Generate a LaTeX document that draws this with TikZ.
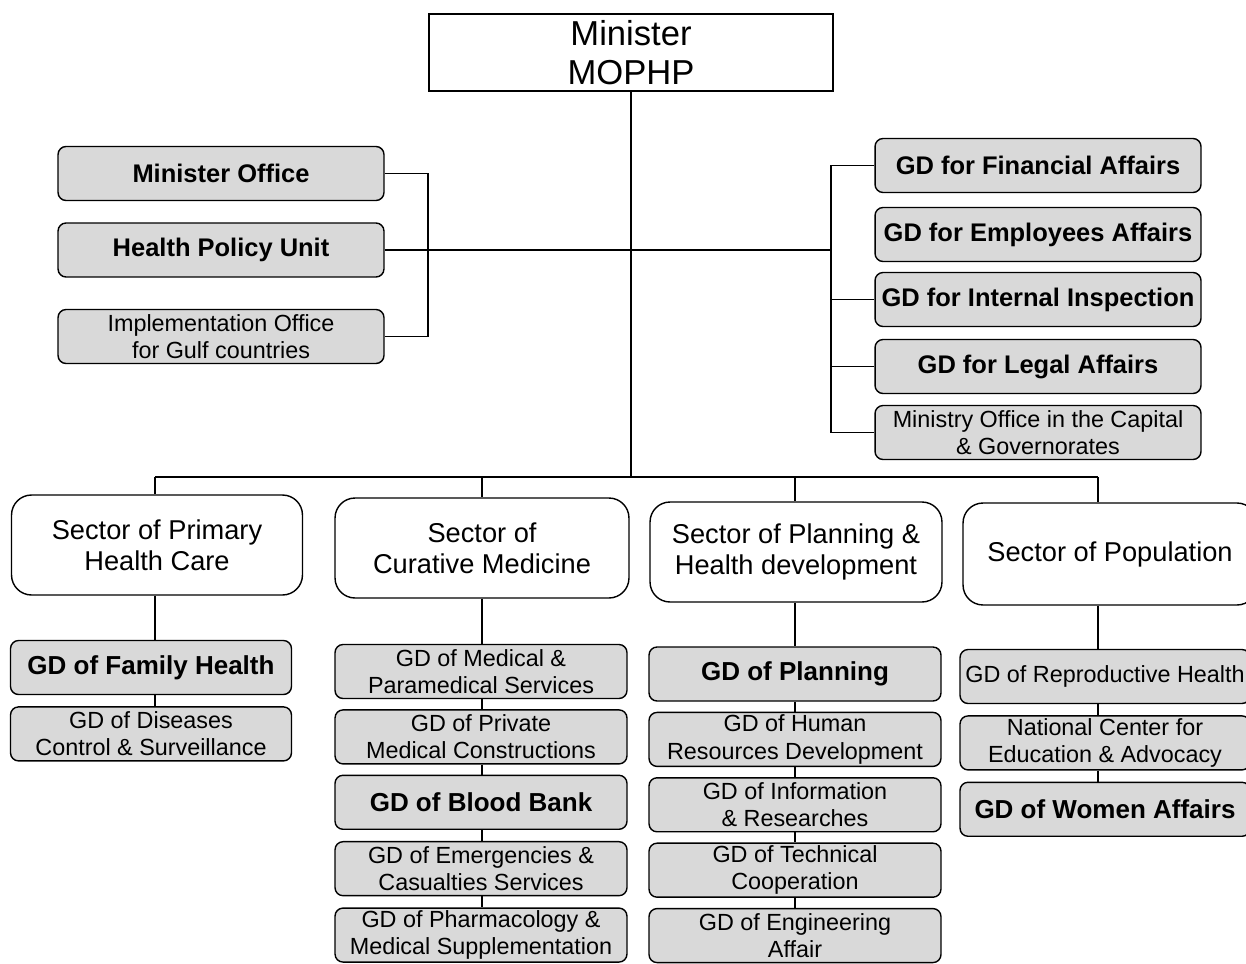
\documentclass[tikz,border=0pt]{standalone}
\usepackage{fontspec}
\setmainfont{Liberation Sans}
\usetikzlibrary{positioning}

\tikzset{
  head/.style={draw, line width=0.8pt, minimum width=8.08cm, minimum height=1.54cm,
    inner sep=0pt, align=center, font=\fontsize{19.7}{22}\selectfont},
  sector/.style={draw, line width=0.8pt, rounded corners=0.4cm, minimum width=5.84cm,
    minimum height=2cm, align=center, font=\fontsize{15.5}{17.6}\selectfont},
  unit/.style={draw, line width=0.8pt, fill=black!15, rounded corners=0.16cm,
    minimum width=5.84cm, minimum height=1.08cm, inner xsep=2pt, inner ysep=0pt,
    align=center, font=\fontsize{13.3}{15.5}\selectfont},
  unitb/.style={unit, font=\fontsize{14.8}{17}\selectfont\bfseries},
  staff/.style={unit, minimum width=6.52cm, font=\fontsize{14.5}{17}\selectfont\bfseries},
  staffr/.style={staff, font=\fontsize{13.3}{15.5}\selectfont},
  link/.style={line width=0.8pt},
}

\begin{document}
\begin{tikzpicture}[x=0.02cm, y=-0.02cm]
\useasboundingbox (0,0) rectangle (1246,963);
\clip (0,0) rectangle (1246,963);

% Define nodes
\node[head] (min) at (631,52.5) {Minister\\MOPHP};

\node[staff]  (mo)  at (221,173.5) {Minister Office};
\node[staff]  (hpu) at (221,250)   {Health Policy Unit};
\node[staffr] (imp) at (221,336.5) {Implementation Office\\for Gulf countries};

\node[staff]  (fin) at (1038,165.5) {GD for Financial Affairs};
\node[staff]  (emp) at (1038,234.5) {GD for Employees Affairs};
\node[staff]  (ins) at (1038,299.5) {GD for Internal Inspection};
\node[staff]  (leg) at (1038,366.5) {GD for Legal Affairs};
\node[staffr] (mio) at (1038,432.5) {Ministry Office in the Capital\\\& Governorates};

\node[sector, minimum width=5.82cm] (phc) at (157,545)  {Sector of Primary\\Health Care};
\node[sector, minimum width=5.88cm] (cur) at (482,548)  {Sector of\\Curative Medicine};
\node[sector]                       (pln) at (796,552)  {Sector of Planning \&\\Health development};
\node[sector, minimum width=5.88cm, minimum height=2.04cm] (pop) at (1110,554) {Sector of Population};

\node[unitb, minimum width=5.62cm] (fh) at (151,667.5) {GD of Family Health};
\node[unit, minimum width=5.62cm, below=0.22cm of fh] (dc) {GD of Diseases\\Control \& Surveillance};

\node[unit] (mps) at (481,671.5) {GD of Medical \&\\Paramedical Services};
\node[unit, below=0.2cm of mps] (pmc) {GD of Private\\Medical Constructions};
\node[unitb, below=0.2cm of pmc] (bb) {GD of Blood Bank};
\node[unit, below=0.22cm of bb] (ecs) {GD of Emergencies \&\\Casualties Services};
\node[unit, below=0.22cm of ecs] (pms) {GD of Pharmacology \&\\Medical Supplementation};

\node[unitb] (gp) at (795,674) {GD of Planning};
\node[unit, below=0.2cm of gp] (hrd) {GD of Human\\Resources Development};
\node[unit, below=0.2cm of hrd] (inf) {GD of Information\\\& Researches};
\node[unit, below=0.2cm of inf] (tc) {GD of Technical\\Cooperation};
\node[unit, below=0.2cm of tc] (ea) {GD of Engineering\\Affair};

\node[unit, minimum width=5.8cm] (rh) at (1105,676.5) {GD of Reproductive Health};
\node[unit, minimum width=5.8cm, below=0.22cm of rh] (nce) {National Center for\\Education \& Advocacy};
\node[unitb, minimum width=5.8cm, below=0.22cm of nce] (wa) {GD of Women Affairs};

% Connect the nodes
\coordinate (lb) at (428,0);
\coordinate (rb) at (831,0);
\coordinate (b1) at (155,477);
\coordinate (b2) at (482,477);
\coordinate (b3) at (795,477);
\coordinate (b4) at (1098,477);

\draw[link] (min.south) -- (min.south |- b1);
\draw[link] (b1) -- (b4);
\draw[link] (mo.east) -| (lb |- imp.east) -- (imp.east);
\draw[link] (hpu.east) -- (hpu.east -| rb);
\draw[link] (fin.west) -| (rb |- mio.west) -- (mio.west);
\foreach \n in {ins,leg}
  \draw[link] (\n.west) -- (\n.west -| rb);

\foreach \c/\a/\b in {b1/b1/phc, b1/phc/fh, b1/fh/dc,
    b2/b2/cur, b2/cur/mps, b2/mps/pmc, b2/pmc/bb, b2/bb/ecs, b2/ecs/pms,
    b3/b3/pln, b3/pln/gp, b3/gp/hrd, b3/hrd/inf, b3/inf/tc, b3/tc/ea,
    b4/b4/pop, b4/pop/rh, b4/rh/nce, b4/nce/wa}
  \draw[link] (\c |- \a.south) -- (\c |- \b.north);

\end{tikzpicture}
\end{document}
